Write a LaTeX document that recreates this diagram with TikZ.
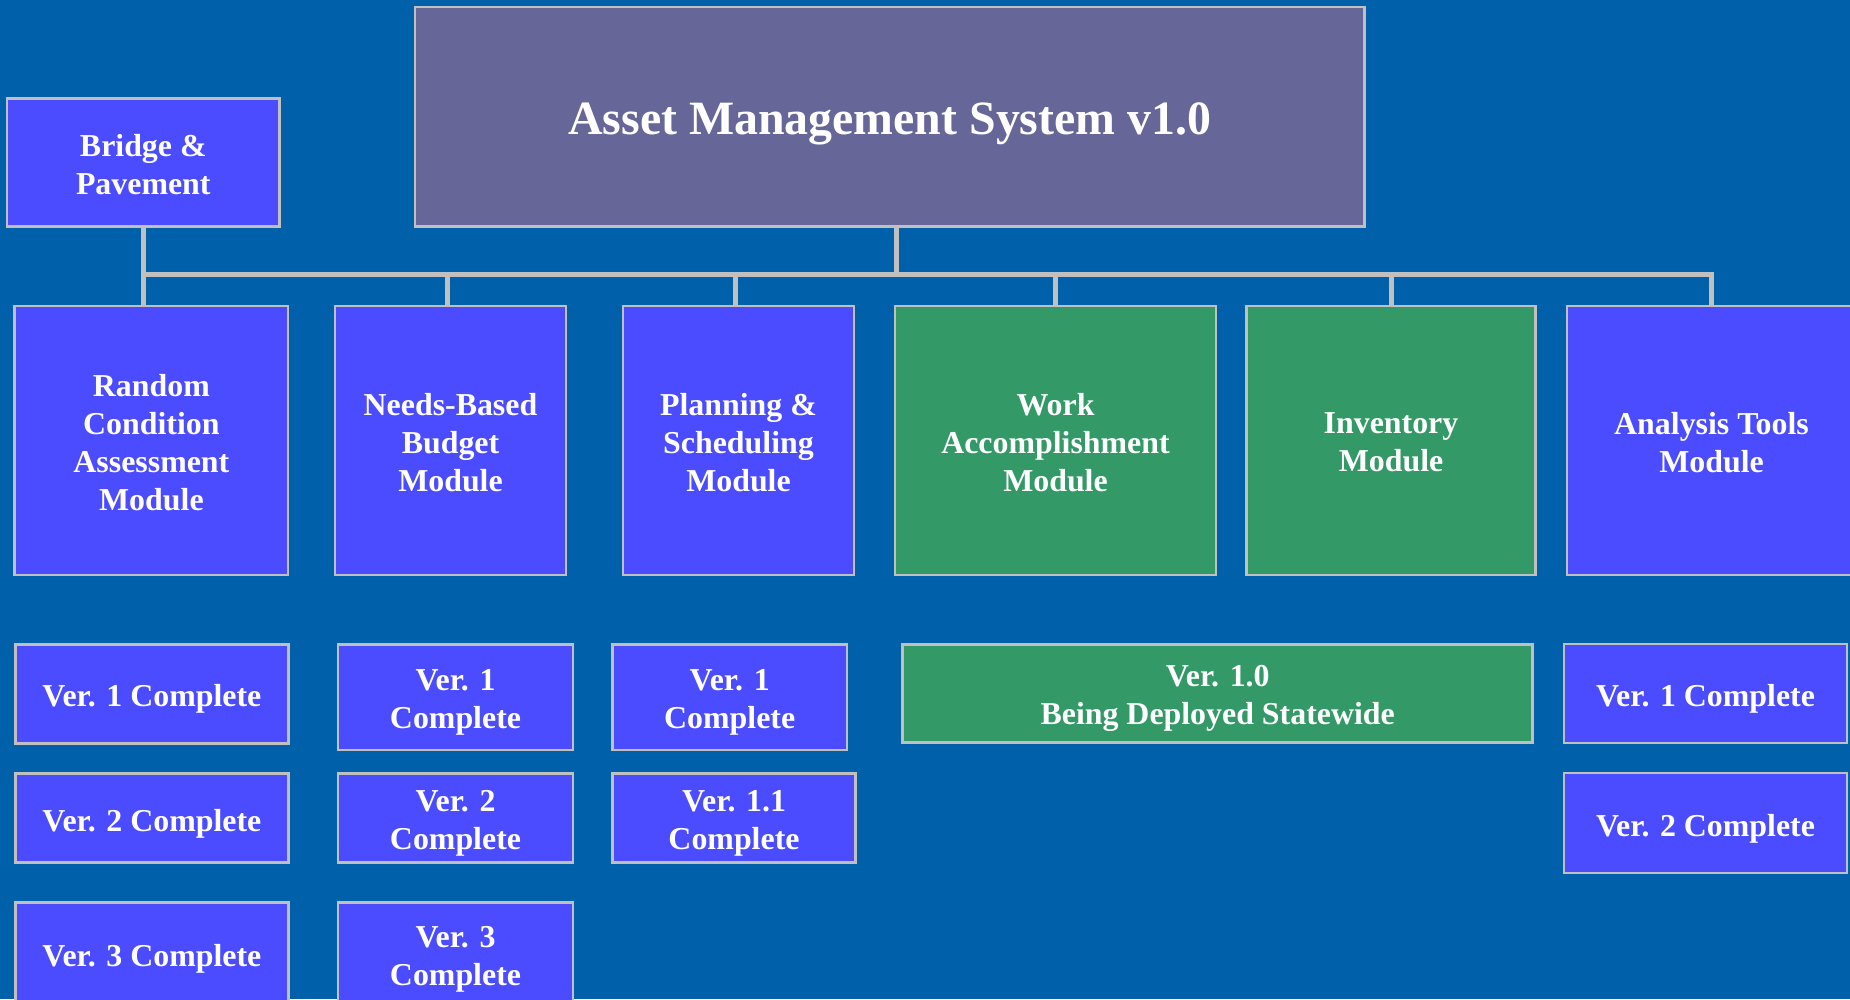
\documentclass[tikz,border=0pt]{standalone}
\usepackage{fontspec}
\setmainfont{Liberation Serif}
\usetikzlibrary{calc}
\definecolor{bgc}{RGB}{0,96,170}
\definecolor{bluebox}{RGB}{75,75,255}
\definecolor{greenbox}{RGB}{51,153,102}
\definecolor{mainbox}{RGB}{102,102,153}
\definecolor{edgec}{RGB}{192,192,192}
\begin{document}
\begin{tikzpicture}[x=1bp,y=-1bp,
  box/.style={draw=edgec, line width=2.5bp, inner sep=0pt, outer sep=0pt},
  bbox/.style={box, fill=bluebox},
  gbox/.style={box, fill=greenbox},
  mbox/.style={box, fill=mainbox},
  txt/.style={inner sep=0pt, align=center, text=white, font=\fontsize{32}{38}\selectfont\bfseries},
  ttl/.style={txt, font=\fontsize{48}{58}\selectfont\bfseries, yshift=-7bp},
  modt/.style={txt, yshift=-2bp},
  vert/.style={txt, yshift=-5.5bp},
  conn/.style={draw=edgec, line width=5bp}]
\useasboundingbox (0,0) rectangle (1850,999);
\clip (0,0) rectangle (1850,999);
\fill[bgc] (0,0) rectangle (1850,999);

% top
\node[mbox, minimum width=949.5bp, minimum height=219.6bp] (main) at (889.8,116.8) {};
\node[ttl] (main-t) at (main.center) {Asset Management System v1.0};
\node[bbox, minimum width=272.6bp, minimum height=128bp] (bridge) at (143.3,162.7) {};
\node[modt] (bridge-t) at (bridge.center) {Bridge \&\\Pavement};

% modules
\node[bbox, minimum width=273.3bp, minimum height=269bp] (random) at (151.4,440.5) {};
\node[modt] (random-t) at (random.center) {Random\\Condition\\Assessment\\Module};
\node[bbox, minimum width=231bp, minimum height=269bp] (needs) at (450.5,440.5) {};
\node[modt] (needs-t) at (needs.center) {Needs-Based\\Budget\\Module};
\node[bbox, minimum width=231bp, minimum height=269bp] (planning) at (738.5,440.5) {};
\node[modt] (planning-t) at (planning.center) {Planning \&\\Scheduling\\Module};
\node[gbox, minimum width=321bp, minimum height=269bp] (work) at (1055.5,440.5) {};
\node[modt] (work-t) at (work.center) {Work\\Accomplishment\\Module};
\node[gbox, minimum width=289bp, minimum height=269bp] (inventory) at (1391,440.5) {};
\node[modt] (inventory-t) at (inventory.center) {Inventory\\Module};
\node[bbox, minimum width=289bp, minimum height=269bp] (analysis) at (1711.5,440.5) {};
\node[modt] (analysis-t) at (analysis.center) {Analysis Tools\\Module};

% versions
\node[bbox, minimum width=273.2bp, minimum height=99bp] (rv1) at (151.9,693.8) {};
\node[vert] (rv1-t) at (rv1.center) {Ver. 1 Complete};
\node[bbox, minimum width=273.2bp, minimum height=89.4bp] (rv2) at (151.9,818) {};
\node[vert] (rv2-t) at (rv2.center) {Ver. 2 Complete};
\node[bbox, minimum width=273.2bp, minimum height=102.7bp] (rv3) at (151.9,953.6) {};
\node[vert] (rv3-t) at (rv3.center) {Ver. 3 Complete};
\node[bbox, minimum width=235bp, minimum height=105.7bp] (nv1) at (455.5,697.2) {};
\node[vert] (nv1-t) at (nv1.center) {Ver. 1\\Complete};
\node[bbox, minimum width=235bp, minimum height=89.4bp] (nv2) at (455.5,818) {};
\node[vert] (nv2-t) at (nv2.center) {Ver. 2\\Complete};
\node[bbox, minimum width=235bp, minimum height=102.7bp] (nv3) at (455.5,953.6) {};
\node[vert] (nv3-t) at (nv3.center) {Ver. 3\\Complete};
\node[bbox, minimum width=234.6bp, minimum height=105.7bp] (pv1) at (729.7,697.2) {};
\node[vert] (pv1-t) at (pv1.center) {Ver. 1\\Complete};
\node[bbox, minimum width=243bp, minimum height=89.4bp] (pv11) at (734,818) {};
\node[vert] (pv11-t) at (pv11.center) {Ver. 1.1\\Complete};
\node[gbox, minimum width=630bp, minimum height=98bp] (wv) at (1217.7,693.3) {};
\node[vert] (wv-t) at (wv.center) {Ver. 1.0\\Being Deployed Statewide};
\node[bbox, minimum width=283bp, minimum height=99bp] (av1) at (1705.5,693.5) {};
\node[vert] (av1-t) at (av1.center) {Ver. 1 Complete};
\node[bbox, minimum width=283bp, minimum height=99.7bp] (av2) at (1705.5,822.9) {};
\node[vert] (av2-t) at (av2.center) {Ver. 2 Complete};

% connectors
\coordinate (jn) at (896,274.4);
\coordinate (nd) at ($(needs.north)+(-3,0)$);
\coordinate (pd) at ($(planning.north)+(-3.5,0)$);
\draw[conn] (main.south -| jn) -- (jn);
\draw[conn] (bridge.south) -- (bridge.south |- random.north);
\draw[conn, line cap=rect] (bridge.south |- jn) -- (analysis.north |- jn);
\draw[conn] (nd |- jn) -- (nd);
\draw[conn] (pd |- jn) -- (pd);
\draw[conn] (work.north |- jn) -- (work.north);
\draw[conn] (inventory.north |- jn) -- (inventory.north);
\draw[conn] (analysis.north |- jn) -- (analysis.north);
\end{tikzpicture}
\end{document}
